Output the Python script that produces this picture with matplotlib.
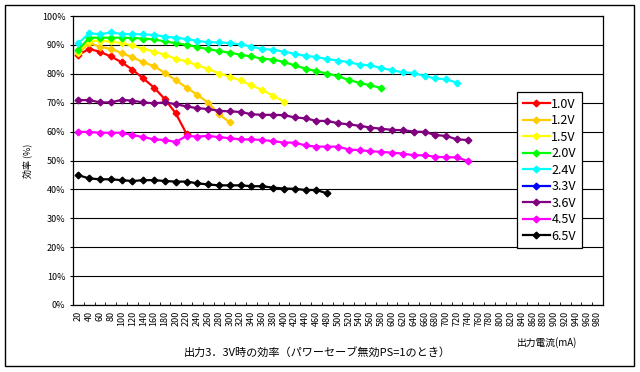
import matplotlib
matplotlib.use('Agg')
import matplotlib.pyplot as plt
from matplotlib.patches import Rectangle

plt.rcParams['font.family'] = ['Noto Sans CJK JP', 'DejaVu Sans']

# output current categories (mA)
currents = ['20', '40', '60', '80', '100', '120', '140', '160', '180', '200',
            '220', '240', '260', '280', '300', '320', '340', '360', '380', '400',
            '420', '440', '460', '480', '500', '520', '540', '560', '580', '600',
            '620', '640', '660', '680', '700', '720', '740', '760', '780', '800',
            '820', '840', '860', '880', '900', '920', '940', '960', '980']

# efficiency (%) per input voltage, starting at 20mA
eff_10 = [86.6, 88.6, 87.6, 86.0, 84.0, 81.4, 78.4, 75.2, 71.2, 66.3, 59.2]
eff_12 = [87.2, 90.6, 89.4, 88.6, 87.2, 85.7, 84.0, 82.6, 80.3, 77.8, 75.2, 72.7,
          70.0, 66.0, 63.2]
eff_15 = [87.7, 91.4, 91.4, 91.2, 90.6, 89.8, 88.6, 87.7, 86.6, 85.2, 84.3, 82.9,
          81.7, 80.1, 79.0, 77.7, 76.0, 74.4, 72.4, 70.4]
eff_20 = [88.3, 92.5, 92.5, 92.5, 92.5, 92.4, 92.2, 91.9, 91.2, 90.6, 90.0, 89.3,
          88.5, 87.9, 87.3, 86.6, 86.0, 85.2, 84.9, 84.1, 82.9, 81.8, 80.9, 80.1,
          79.2, 77.8, 76.9, 76.0, 75.1]
eff_24 = [90.6, 94.0, 93.7, 94.3, 93.8, 93.7, 93.7, 93.4, 92.9, 92.5, 92.0, 91.4,
          90.9, 90.9, 90.6, 90.2, 89.4, 88.6, 88.3, 87.7, 86.9, 86.2, 85.8, 85.1,
          84.6, 84.0, 83.2, 82.9, 82.0, 81.2, 80.5, 80.3, 79.2, 78.4, 78.1, 76.9]
eff_33 = []
eff_36 = [70.9, 70.9, 70.1, 70.1, 71.0, 70.7, 70.1, 69.8, 70.1, 69.5, 68.7, 68.1,
          67.8, 67.2, 67.0, 66.8, 66.0, 65.8, 65.8, 65.7, 64.9, 64.6, 63.7, 63.7,
          62.9, 62.5, 62.0, 61.4, 61.0, 60.6, 60.5, 60.0, 59.9, 58.8, 58.5, 57.3, 57.1]
eff_45 = [59.9, 59.9, 59.6, 59.6, 59.6, 58.8, 58.1, 57.3, 57.1, 56.4, 58.5, 58.3,
          58.5, 58.1, 57.7, 57.3, 57.3, 57.1, 56.7, 56.2, 56.2, 55.2, 54.8, 54.8,
          54.8, 53.8, 53.6, 53.2, 53.0, 52.7, 52.4, 51.8, 51.8, 51.3, 51.1, 51.1, 49.8]
eff_65 = [44.9, 43.8, 43.5, 43.5, 43.2, 42.9, 43.2, 43.2, 42.9, 42.7, 42.7, 42.1,
          41.7, 41.4, 41.4, 41.4, 41.1, 41.1, 40.6, 40.3, 40.2, 39.8, 39.8, 38.6]

labels = ['1.0V', '1.2V', '1.5V', '2.0V', '2.4V', '3.3V', '3.6V', '4.5V', '6.5V']
series = [eff_10, eff_12, eff_15, eff_20, eff_24, eff_33, eff_36, eff_45, eff_65]
colors = ['#FF0000', '#FFCC00', '#FFFF00', '#00FF00', '#00FFFF', '#0000FF',
          '#800080', '#FF00FF', '#000000']

fig = plt.figure(figsize=(6.4, 3.72), dpi=100)
ax = fig.add_axes([73 / 640, 67 / 372, 530 / 640, 289 / 372])

for vals, lab, col in zip(series, labels, colors):
    ax.plot(range(len(vals)), vals, color=col, lw=1.6, marker='D', ms=3.4,
            mec=col, label=lab)

ax.set_xlim(-0.5, len(currents) - 0.5)
ax.set_ylim(0, 100)
ax.set_yticks(range(0, 101, 10))
ax.set_yticklabels([f'{v}%' for v in range(0, 101, 10)], fontsize=6.5)
ax.yaxis.grid(True, color='black', lw=0.8)
ax.set_axisbelow(True)
ax.set_xticks(range(len(currents)))
ax.set_xticklabels(currents, rotation=90, fontsize=6.5)
ax.set_xticks([i + 0.5 for i in range(len(currents) - 1)], minor=True)
ax.tick_params(axis='x', which='major', length=0, pad=4)
ax.tick_params(axis='x', which='minor', length=2, direction='in')
ax.tick_params(axis='y', length=2.5, pad=3)
for s in ax.spines.values():
    s.set_color('black')
    s.set_linewidth(0.9)

ax.set_ylabel('効率 (%)', fontsize=6.5, labelpad=7)

fig.text(317 / 640, 1 - 352 / 372, '出力3．3V時の効率（パワーセーブ無効PS=1のとき）',
         fontsize=8, ha='center', va='center')
fig.text(547 / 640, 1 - 343 / 372, '出力電流(mA)', fontsize=7, ha='center', va='center')

leg = fig.legend(loc='upper left', bbox_to_anchor=(517 / 640, 1 - 92 / 372),
                 bbox_transform=fig.transFigure, borderaxespad=0, fontsize=9,
                 frameon=True, fancybox=False, edgecolor='black', framealpha=1,
                 handlelength=2.2, handletextpad=0.1, labelspacing=0.28,
                 borderpad=0.45)
leg.get_frame().set_linewidth(0.9)

fig.patches.append(Rectangle((5 / 640, 6 / 372), 629 / 640, 361 / 372,
                             transform=fig.transFigure, fill=False,
                             edgecolor='black', lw=1))

fig.savefig('out.png', dpi=100)
